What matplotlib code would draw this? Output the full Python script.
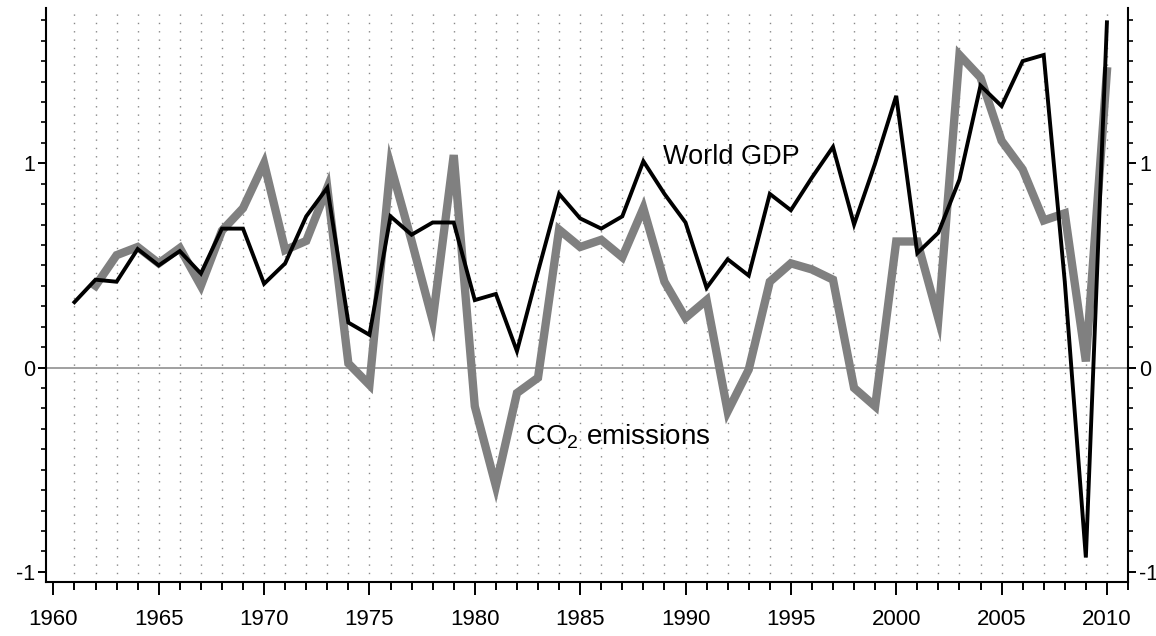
import numpy as np
import matplotlib
matplotlib.use("Agg")
import matplotlib.pyplot as plt
from matplotlib.ticker import MultipleLocator, FixedLocator

plt.rcParams['font.family'] = ['Liberation Sans', 'DejaVu Sans']
plt.rcParams['mathtext.fontset'] = 'custom'
plt.rcParams['mathtext.rm'] = 'Liberation Sans'
plt.rcParams['mathtext.it'] = 'Liberation Sans'

# data
gdp_years = list(range(1961, 2011))
gdp = [0.32, 0.43, 0.42, 0.58, 0.50, 0.57, 0.46, 0.68, 0.68, 0.41,
       0.51, 0.74, 0.88, 0.22, 0.16, 0.74, 0.65, 0.71, 0.71, 0.33,
       0.36, 0.08, 0.47, 0.85, 0.73, 0.68, 0.74, 1.01, 0.85, 0.71,
       0.39, 0.53, 0.45, 0.85, 0.77, 0.93, 1.08, 0.70, 1.00, 1.33,
       0.56, 0.66, 0.92, 1.38, 1.28, 1.50, 1.53, 0.42, -0.93, 1.69]

co2_years = list(range(1962, 2011))
co2 = [0.40, 0.55, 0.59, 0.51, 0.585, 0.40, 0.67, 0.78, 1.00,
       0.575, 0.62, 0.88, 0.02, -0.085, 0.99, 0.62, 0.23, 1.04, -0.19,
       -0.58, -0.125, -0.05, 0.675, 0.59, 0.625, 0.54, 0.78, 0.42, 0.243,
       0.33, -0.215, -0.01, 0.42, 0.51, 0.48, 0.43, -0.10, -0.19, 0.617,
       0.617, 0.24, 1.53, 1.42, 1.11, 0.97, 0.72, 0.755, 0.03, 1.45]

fig = plt.figure(figsize=(11.56, 6.36), dpi=100)
ax = fig.add_axes([46 / 1156, 1 - 582 / 636, (1128 - 46) / 1156, (582 - 8) / 636])

# dotted year grid
for yr in gdp_years:
    ax.axvline(yr, color='#888888', lw=1.0, linestyle=(0, (1.0, 5)), zorder=0)

ax.axhline(0, color='#999999', lw=1.3, zorder=1)

ax.plot(gdp_years, gdp, color='black', lw=2.8, zorder=3, solid_joinstyle='miter')
ax.plot(co2_years, co2, color='#808080', lw=6.0, zorder=2, solid_joinstyle='miter')

ax.text(1988.94, 1.03, 'World GDP', fontsize=19.5, va='center', ha='left')
ax.text(1982.4, -0.34, r'CO$_2$ emissions', fontsize=20, va='center', ha='left')

ax.set_xlim(1959.65, 2011.0)
ax.set_ylim(-1.05, 1.76)

ax.xaxis.set_major_locator(MultipleLocator(5))
ax.xaxis.set_minor_locator(MultipleLocator(1))
ax.yaxis.set_major_locator(FixedLocator([-1, 0, 1]))
ax.yaxis.set_minor_locator(MultipleLocator(0.1))
ax.set_yticklabels(['-1', '0', '1'])

ax.spines['top'].set_visible(False)
for s in ['left', 'right', 'bottom']:
    ax.spines[s].set_linewidth(1.5)

ax.tick_params(axis='x', which='major', direction='out', length=9.5, width=1.4,
               labelsize=16, pad=10)
ax.tick_params(axis='x', which='minor', direction='out', length=5.5, width=1.4)
ax.tick_params(axis='y', which='major', direction='out', length=6, width=1.4,
               labelsize=15.5, pad=2, left=True, right=True,
               labelleft=True, labelright=True)
ax.tick_params(axis='y', which='minor', direction='out', length=3.5, width=1.2,
               left=True, right=True)

fig.savefig('out.png', dpi=100)
